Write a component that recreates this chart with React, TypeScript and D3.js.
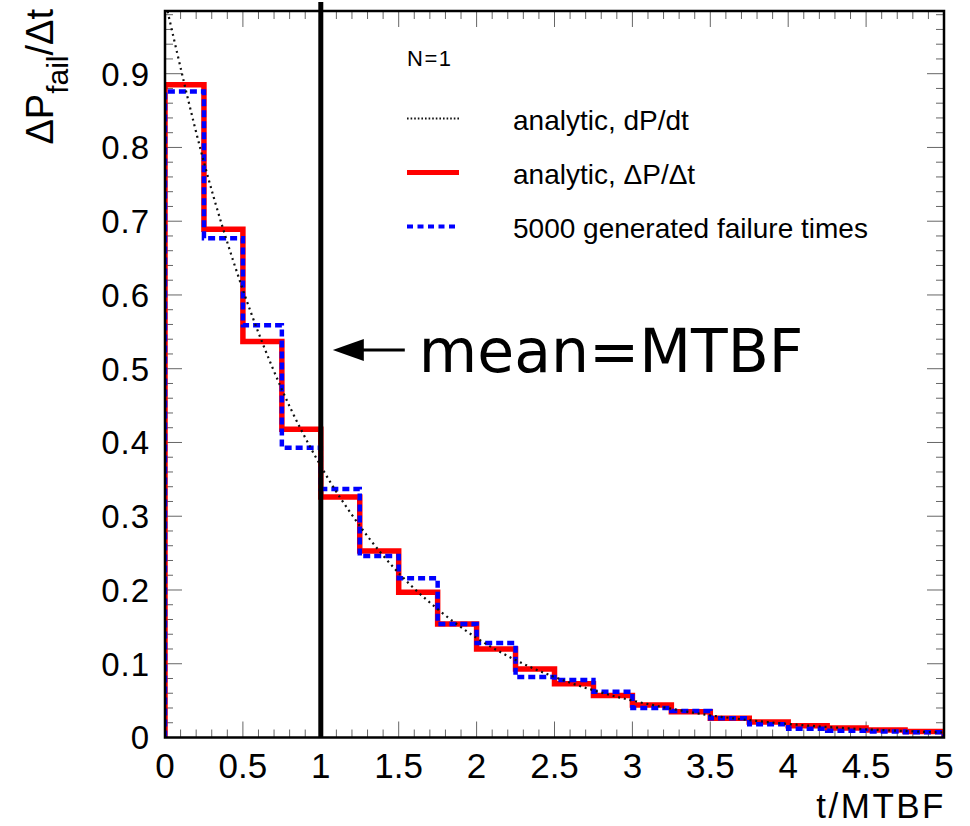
import React, { useEffect, useRef } from 'react';
import * as d3 from 'd3';

// bin edges in units of t/MTBF (20 bins of 0.25)
const binEdges = [0, 0.25, 0.5, 0.75, 1, 1.25, 1.5, 1.75, 2, 2.25, 2.5, 2.75, 3, 3.25, 3.5, 3.75, 4, 4.25, 4.5, 4.75, 5];

// analytic ΔP/Δt per bin (red)
const analyticRate = [0.885, 0.689, 0.537, 0.418, 0.326, 0.253, 0.197, 0.154, 0.12, 0.093, 0.073, 0.057, 0.044, 0.035, 0.026, 0.021, 0.016, 0.013, 0.01, 0.008];

// 5000 generated failure times (blue dashed)
const generatedRate = [0.876, 0.677, 0.559, 0.393, 0.337, 0.246, 0.216, 0.154, 0.128, 0.082, 0.078, 0.062, 0.04, 0.036, 0.026, 0.018, 0.012, 0.009, 0.008, 0.007];

// analytic dP/dt
const curveT = [0, 0.25, 0.5, 0.75, 1, 1.25, 1.5, 1.75, 2, 2.25, 2.5, 2.75, 3, 3.25, 3.5, 3.75, 4, 4.25, 4.5, 4.75, 5];
const curveP = [1.0, 0.78, 0.607, 0.472, 0.368, 0.287, 0.223, 0.174, 0.135, 0.105, 0.082, 0.064, 0.05, 0.039, 0.03, 0.0235, 0.0183, 0.0143, 0.0111, 0.0087, 0.0067];

const xTicks = [0, 0.5, 1, 1.5, 2, 2.5, 3, 3.5, 4, 4.5, 5];
const yTicks = [0, 0.1, 0.2, 0.3, 0.4, 0.5, 0.6, 0.7, 0.8, 0.9];
const meanValue = 1;

const legendItems = [
  { label: 'analytic, dP/dt', kind: 'dot' },
  { label: 'analytic, \u0394P/\u0394t', kind: 'red' },
  { label: '5000 generated failure times', kind: 'blue' },
];

const App = () => {
  const svgRef = useRef<SVGSVGElement>(null);

  useEffect(() => {
    const W = 970, H = 826;
    const left = 165, right = 944, top = 11, bottom = 737.5;
    const font = '"Liberation Sans", Arial, Helvetica, sans-serif';

    const root = d3.select(svgRef.current);
    root.selectAll('*').remove();
    root.attr('width', W).attr('height', H);

    const x = d3.scaleLinear().domain([0, 5]).range([left, right]);
    const y = d3.scaleLinear().domain([0, 0.985]).range([bottom, top]);

    root.append('rect').attr('width', W).attr('height', H).attr('fill', '#fff');

    root.append('defs').append('clipPath').attr('id', 'frameClip')
      .append('rect').attr('x', left).attr('y', top).attr('width', right - left).attr('height', bottom - top);

    // minor + major ticks on all four sides
    const ticks = root.append('g').attr('stroke', '#666').attr('stroke-width', 1);
    const xMinor = d3.range(0, 51).map(i => i / 10);
    xMinor.forEach((v, i) => {
      const len = i % 5 === 0 ? 16 : 8;
      ticks.append('line').attr('x1', x(v)).attr('x2', x(v)).attr('y1', bottom).attr('y2', bottom - len);
      ticks.append('line').attr('x1', x(v)).attr('x2', x(v)).attr('y1', top).attr('y2', top + len);
    });
    const yMinor = d3.range(0, 50).map(i => i / 50);
    yMinor.forEach((v, i) => {
      const len = i % 5 === 0 ? 17 : 8;
      ticks.append('line').attr('y1', y(v)).attr('y2', y(v)).attr('x1', left).attr('x2', left + len);
      ticks.append('line').attr('y1', y(v)).attr('y2', y(v)).attr('x1', right).attr('x2', right - len);
    });

    // tick labels
    root.append('g').selectAll('text').data(xTicks).enter().append('text')
      .attr('x', d => x(d)).attr('y', 778)
      .attr('text-anchor', 'middle')
      .style('font-family', font).style('font-size', '35px')
      .text(d => String(d));
    root.append('g').selectAll('text').data(yTicks).enter().append('text')
      .attr('x', 150).attr('y', d => y(d)).attr('dy', '0.36em')
      .attr('text-anchor', 'end')
      .style('font-family', font).style('font-size', '33px').style('letter-spacing', '1px')
      .text(d => String(d));

    // histograms
    const stepPoints = (vals: number[]) => {
      const pts: [number, number][] = [[binEdges[0], 0]];
      vals.forEach((v, i) => {
        pts.push([binEdges[i], v]);
        pts.push([binEdges[i + 1], v]);
      });
      pts.push([binEdges[binEdges.length - 1], 0]);
      return pts;
    };
    const step = d3.line<[number, number]>().x(d => x(d[0])).y(d => y(d[1]));

    const plot = root.append('g').attr('clip-path', 'url(#frameClip)');
    plot.append('path').attr('d', step(stepPoints(analyticRate)))
      .attr('fill', 'none').attr('stroke', '#ff0000').attr('stroke-width', 5.5);
    plot.append('path').attr('d', step(stepPoints(generatedRate)))
      .attr('fill', 'none').attr('stroke', '#0000ff').attr('stroke-width', 4.5)
      .attr('stroke-dasharray', '7,4');

    const curve = d3.line<number>()
      .x((d, i) => x(curveT[i])).y(d => y(d))
      .curve(d3.curveMonotoneX);
    plot.append('path').attr('d', curve(curveP))
      .attr('fill', 'none').attr('stroke', '#111').attr('stroke-width', 2.2)
      .attr('stroke-dasharray', '2,3.8');

    // frame
    root.append('rect').attr('x', left).attr('y', top).attr('width', right - left).attr('height', bottom - top)
      .attr('fill', 'none').attr('stroke', '#000').attr('stroke-width', 2.5);

    // mean marker
    root.append('line').attr('x1', x(meanValue)).attr('x2', x(meanValue)).attr('y1', 2).attr('y2', bottom)
      .attr('stroke', '#000').attr('stroke-width', 5);

    const ax = x(meanValue) + 12, ay = 350;
    root.append('line').attr('x1', ax + 25).attr('x2', ax + 72).attr('y1', ay).attr('y2', ay)
      .attr('stroke', '#000').attr('stroke-width', 3);
    root.append('path').attr('d', `M${ax},${ay} L${ax + 31},${ay - 11} L${ax + 31},${ay + 11} Z`).attr('fill', '#000');
    root.append('text').attr('x', ax + 86).attr('y', 371.5)
      .style('font-family', '"DejaVu Sans", sans-serif').style('font-size', '60px')
      .text('mean=MTBF');

    // legend
    root.append('text').attr('x', 407).attr('y', 65.5)
      .style('font-family', font).style('font-size', '22px').style('letter-spacing', '1.5px')
      .text('N=1');
    const legendY = [118.5, 172.5, 226.5];
    legendItems.forEach((item, i) => {
      const ly = legendY[i];
      const seg = root.append('line').attr('x1', 407).attr('x2', 459).attr('y1', ly).attr('y2', ly);
      if (item.kind === 'dot') seg.attr('stroke', '#111').attr('stroke-width', 2.2).attr('stroke-dasharray', '1.6,2');
      if (item.kind === 'red') seg.attr('stroke', '#ff0000').attr('stroke-width', 5);
      if (item.kind === 'blue') seg.attr('stroke', '#0000ff').attr('stroke-width', 4).attr('stroke-dasharray', '6,4.5');
      root.append('text').attr('x', 513).attr('y', ly + 11)
        .style('font-family', font).style('font-size', '28px')
        .text(item.label);
    });

    // axis titles
    root.append('text').attr('x', right + 2).attr('y', 818)
      .attr('text-anchor', 'end')
      .style('font-family', font).style('font-size', '35px').style('letter-spacing', '2.5px')
      .text('t/MTBF');

    const yt = root.append('text')
      .attr('transform', 'translate(53,9) rotate(-90)')
      .attr('text-anchor', 'end')
      .style('font-family', font).style('font-size', '38px');
    yt.append('tspan').text('\u0394P');
    yt.append('tspan').attr('dy', 15).style('font-size', '30px').text('fail');
    yt.append('tspan').attr('dy', -15).text('/\u0394t');
  }, []);

  return <svg ref={svgRef} style={{ position: 'absolute', left: 0, top: 0, display: 'block' }} />;
};

export default App;
